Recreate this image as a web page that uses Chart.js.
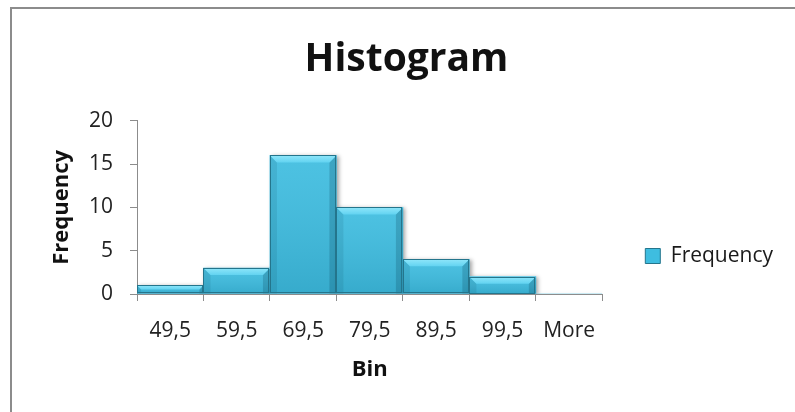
<!DOCTYPE html>
<html>
<head>
<meta charset="utf-8">
<script src="https://cdn.jsdelivr.net/npm/chart.js@4"></script>
<style>
  html, body { margin: 0; padding: 0; background: #fff; }
  #wrap { position: relative; width: 795px; height: 412px; }
</style>
</head>
<body>
<div id="wrap"><canvas id="c" width="795" height="412"></canvas></div>
<script>
// Histogram data
const bins = ['49,5', '59,5', '69,5', '79,5', '89,5', '99,5', 'More'];
const frequency = [1, 3, 16, 10, 4, 2, 0];
const yMax = 20;
const yStep = 5;
const seriesName = 'Frequency';
const titleText = 'Histogram';
const xTitle = 'Bin';
const yTitle = 'Frequency';

const FONT = "'Open Sans', 'Liberation Sans', sans-serif";
const BAR_FILL = '#3ebde0';
const BAR_EDGE = '#24758c';
const LEGEND_DROP = 55;

// Outer frame of the chart object (grey line along top and left)
const framePlugin = {
  id: 'frame',
  beforeDraw(chart) {
    const ctx = chart.ctx;
    ctx.save();
    ctx.fillStyle = '#ffffff';
    ctx.fillRect(0, 0, chart.width, chart.height);
    ctx.fillStyle = '#8c8c8c';
    ctx.fillRect(10, 7, chart.width - 10, 2);
    ctx.fillRect(10, 7, 2, chart.height - 7);
    ctx.restore();
  }
};

// Lower the legend block so it sits below the plot's middle
const legendShift = {
  id: 'legendShift',
  afterLayout(chart) {
    const lg = chart.legend;
    if (lg) { lg.top += LEGEND_DROP; lg.bottom += LEGEND_DROP; }
  }
};

// Soft drop shadow under the columns
const shadowPlugin = {
  id: 'colShadow',
  beforeDatasetDraw(chart) {
    const ctx = chart.ctx;
    ctx.save();
    ctx.shadowColor = 'rgba(0,0,0,0.35)';
    ctx.shadowBlur = 4;
    ctx.shadowOffsetX = 2;
    ctx.shadowOffsetY = 1;
  },
  afterDatasetDraw(chart) {
    chart.ctx.restore();
  }
};

// Bevelled look for each column, using the element geometry from the bar scale
const bevelPlugin = {
  id: 'bevel',
  afterDatasetsDraw(chart) {
    const ctx = chart.ctx;
    const meta = chart.getDatasetMeta(0);
    ctx.save();
    meta.data.forEach(bar => {
      const p = bar.getProps(['x', 'y', 'base', 'width'], true);
      const l = p.x - p.width / 2, r = p.x + p.width / 2;
      const t = Math.min(p.y, p.base), b = Math.max(p.y, p.base);
      const h = b - t;
      if (h < 1) return;
      const d = Math.min(7, h / 2);

      // body shading
      const g = ctx.createLinearGradient(0, t, 0, b);
      g.addColorStop(0, 'rgba(255,255,255,0.08)');
      g.addColorStop(1, 'rgba(0,40,60,0.12)');
      ctx.fillStyle = g;
      ctx.fillRect(l, t, r - l, h);

      // left bevel
      ctx.beginPath();
      ctx.moveTo(l, t); ctx.lineTo(l + d, t + d); ctx.lineTo(l + d, b); ctx.lineTo(l, b); ctx.closePath();
      ctx.fillStyle = 'rgba(0,50,70,0.10)';
      ctx.fill();

      // right bevel
      ctx.beginPath();
      ctx.moveTo(r, t); ctx.lineTo(r - d, t + d); ctx.lineTo(r - d, b); ctx.lineTo(r, b); ctx.closePath();
      ctx.fillStyle = 'rgba(0,50,70,0.20)';
      ctx.fill();

      // top bevel highlight
      const tg = ctx.createLinearGradient(0, t, 0, t + d);
      tg.addColorStop(0, '#8fe6fa');
      tg.addColorStop(1, '#62d3f1');
      ctx.beginPath();
      ctx.moveTo(l, t); ctx.lineTo(r, t); ctx.lineTo(r - d, t + d); ctx.lineTo(l + d, t + d); ctx.closePath();
      ctx.fillStyle = tg;
      ctx.fill();

      // outline
      ctx.strokeStyle = BAR_EDGE;
      ctx.lineWidth = 1;
      ctx.strokeRect(Math.round(l) + 0.5, Math.round(t) + 0.5, Math.round(r - l) - 1, Math.round(h) - 1);
    });
    ctx.restore();
  }
};

function drawChart() {
  new Chart(document.getElementById('c'), {
    type: 'bar',
    data: {
      labels: bins,
      datasets: [{
        label: seriesName,
        data: frequency,
        backgroundColor: BAR_FILL,
        borderColor: BAR_EDGE,
        borderWidth: 0,
        barPercentage: 1,
        categoryPercentage: 1,
        yAxisID: 'y'
      }]
    },
    options: {
      responsive: false,
      animation: false,
      devicePixelRatio: 1,
      layout: { padding: { top: 0, left: 30, right: 12, bottom: 10 } },
      plugins: {
        title: {
          display: true,
          text: titleText,
          color: '#111',
          font: { family: FONT, size: 39, weight: 'bold' },
          padding: { top: 36, bottom: 38 }
        },
        legend: {
          display: true,
          position: 'right',
          maxWidth: 220,
          labels: {
            color: '#1a1a1a',
            font: { family: FONT, size: 21 },
            boxWidth: 15,
            boxHeight: 15,
            padding: 10,
            generateLabels(chart) {
              const items = Chart.defaults.plugins.legend.labels.generateLabels(chart);
              items.forEach(it => { it.lineWidth = 1; it.strokeStyle = BAR_EDGE; });
              return items;
            }
          }
        },
        tooltip: { enabled: false }
      },
      scales: {
        x: {
          type: 'category',
          grid: { display: true, drawOnChartArea: false, drawTicks: true, tickLength: 7, color: '#8c8c8c', offset: true },
          border: { display: true, color: '#8c8c8c', width: 1 },
          ticks: { color: '#222', font: { family: FONT, size: 21 }, padding: 17, maxRotation: 0, autoSkip: false },
          title: { display: true, text: xTitle, color: '#111', font: { family: FONT, size: 22, weight: 'bold' }, padding: { top: 0, bottom: 19 } },
          afterFit(scale) { scale.height = 108; }
        },
        y: {
          position: 'left',
          min: 0,
          max: yMax,
          grid: { display: true, drawOnChartArea: false, drawTicks: true, tickLength: 7, color: '#8c8c8c' },
          border: { display: true, color: '#8c8c8c', width: 1 },
          ticks: { stepSize: yStep, color: '#222', font: { family: FONT, size: 21 }, padding: 17 },
          title: { display: true, text: yTitle, color: '#111', font: { family: FONT, size: 22, weight: 'bold' }, padding: { top: 19, bottom: 0 } },
          afterFit(scale) { scale.width = 107; }
        },
        gap: {
          position: 'right',
          display: true,
          grid: { display: false },
          border: { display: false },
          ticks: { display: false },
          afterFit(scale) { scale.width = 33; }
        }
      }
    },
    plugins: [framePlugin, legendShift, shadowPlugin, bevelPlugin]
  });
}

// Make sure the text metrics come from the real font before layout
Promise.all([
  document.fonts.load("21px 'Open Sans'"),
  document.fonts.load("bold 22px 'Open Sans'"),
  document.fonts.load("bold 39px 'Open Sans'")
]).then(drawChart, drawChart);
</script>
</body>
</html>
